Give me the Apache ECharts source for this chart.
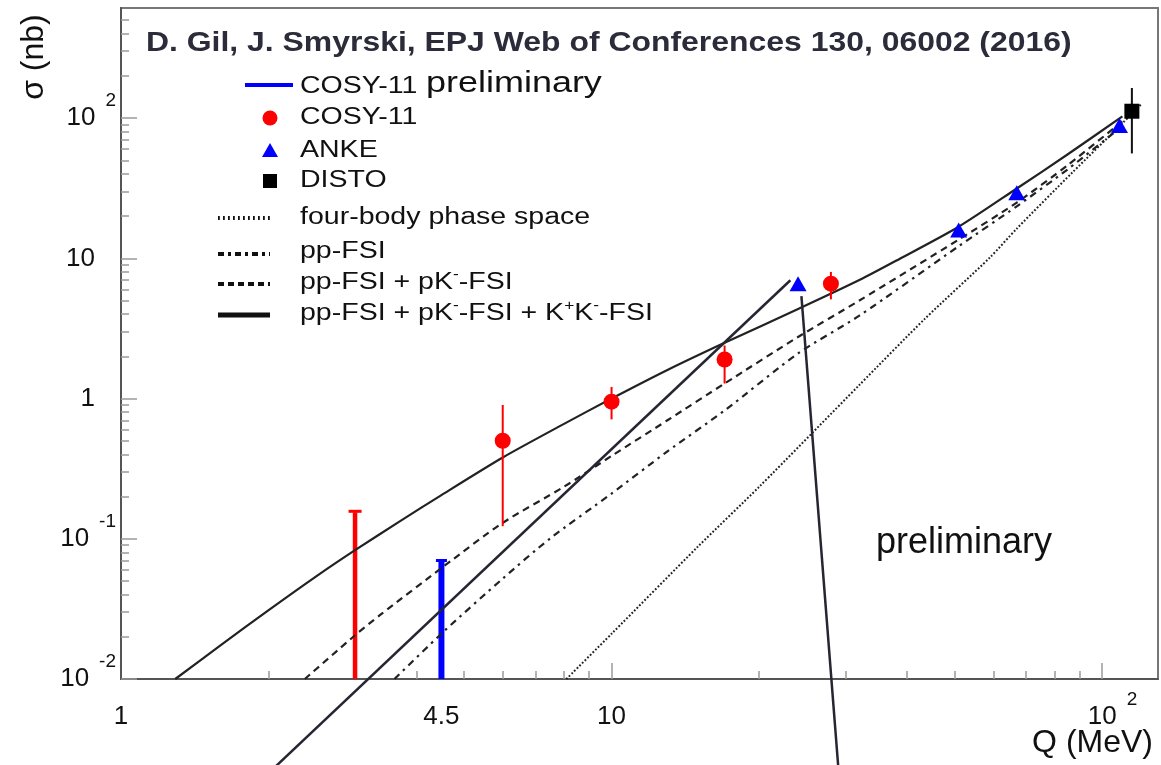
<!DOCTYPE html>
<html>
<head>
<meta charset="utf-8">
<title>pp → ppK+K− total cross section</title>
<script src="https://cdn.jsdelivr.net/npm/echarts@6/dist/echarts.min.js"></script>
<style>
  html, body { margin: 0; padding: 0; background: #ffffff; }
  #chart { width: 1161px; height: 765px; }
</style>
</head>
<body>
<div id="chart"></div>
<script>
// ---- measured cross sections: Q (MeV) and sigma (nb) ----
const cosyQ = [6.0, 10.0, 17.0, 28.0];
const cosySigma = [0.50, 0.95, 1.90, 6.6];
const cosyLow = [0.123, 0.71, 1.28, 5.1];
const cosyHigh = [0.90, 1.21, 2.39, 8.0];

const ankeQ = [24.0, 51.0, 67.0, 108.5];
const ankeSigma = [6.6, 15.9, 29.4, 88.5];

const distoQ = [115];
const distoSigma = [112];
const distoLow = [56];
const distoHigh = [164];

// upper limits (bar drawn from the bottom of the axis up to the limit)
const cosyLimitQ = [3.0];
const cosyLimitSigma = [0.157];
const prelimLimitQ = [4.5];
const prelimLimitSigma = [0.070];

// ---- model curves ----
const phaseQ = [8.09, 10, 15, 20, 32, 43.5, 59, 67, 87, 110, 120];
const phaseSigma = [0.010, 0.021, 0.088, 0.235, 1.25, 3.7, 10.1, 16.3, 41, 92, 125];

const ppQ = [3.61, 4.56, 6.0, 7.48, 10, 13, 17.1, 24, 32, 51, 67, 85, 110];
const ppSigma = [0.010, 0.022, 0.052, 0.10, 0.21, 0.42, 0.835, 2.1, 3.9, 12.2, 23.5, 43, 88];

const ppPkQ = [2.37, 3.0, 3.37, 4.56, 6.0, 8.0, 10, 13, 17, 24, 32, 51, 67, 85, 110];
const ppPkSigma = [0.010, 0.0205, 0.0285, 0.064, 0.13, 0.235, 0.39, 0.70, 1.28, 2.75, 5.0, 13.6, 25, 46, 95];

const fullQ = [1.29, 1.6, 2.0, 2.5, 3.0, 3.7, 4.5, 6.0, 8.0, 10, 13, 17, 24, 32, 38, 51, 67, 85, 110];
const fullSigma = [0.010, 0.0175, 0.031, 0.054, 0.083, 0.133, 0.205, 0.38, 0.66, 1.0, 1.6, 2.5, 4.35, 7.0, 9.6, 16.8, 31.5, 55, 103];

// two pointer lines running off the bottom of the frame: [Q1, sigma1, Q2, sigma2]
const pointerLines = [
  [1.99, 0.0021, 23.15, 6.98],
  [24.38, 5.37, 29.06, 0.0021]
];

// ---- axes ----
const xRange = [1, 130];
const yRange = [0.01, 610];
const xMajorTicks = [10, 100];
const xMinorTicks = [2, 3, 4, 5, 6, 7, 8, 9, 20, 30, 40, 50, 60, 70, 80, 90];
const xTickLabels = [1, 4.5, 10, 100];
const yMajorTicks = [0.01, 0.1, 1, 10, 100];
const yMinorTicks = [0.02, 0.03, 0.04, 0.05, 0.06, 0.07, 0.08, 0.09,
                     0.2, 0.3, 0.4, 0.5, 0.6, 0.7, 0.8, 0.9,
                     2, 3, 4, 5, 6, 7, 8, 9,
                     20, 30, 40, 50, 60, 70, 80, 90,
                     200, 300, 400, 500];
const yTickLabels = [0.01, 0.1, 1, 10, 100];

const FONT = '"Liberation Sans", Arial, Helvetica, sans-serif';
const INK = '#111111';
const CURVE = '#222222';

const pairs = (xs, ys) => xs.map((x, i) => [x, ys[i]]);

// "10" with a raised exponent, or a plain number
function decadeParts(v) {
  const l = Math.log10(v);
  const e = Math.round(l);
  if (Math.abs(l - e) > 1e-6) return { base: String(v), exp: null };
  if (e === 0) return { base: '1', exp: null };
  if (e === 1) return { base: '10', exp: null };
  return { base: '10', exp: String(e) };
}

const labelRich = {
  b:  { fontSize: 26, fontFamily: FONT, color: INK, lineHeight: 54 },
  bp: { fontSize: 26, fontFamily: FONT, color: INK, lineHeight: 54, padding: [0, 21, 0, 0] },
  bx: { fontSize: 26, fontFamily: FONT, color: INK, lineHeight: 54, padding: [0, 0, 0, 21] },
  s:  { fontSize: 19, fontFamily: FONT, color: INK, padding: [0, 0, 34, 10] }
};

function yLabel(v) {
  const p = decadeParts(v);
  return p.exp ? '{b|' + p.base + '}{s|' + p.exp + '}' : '{bp|' + p.base + '}';
}
function xLabel(v) {
  const p = decadeParts(v);
  return p.exp ? '{bx|' + p.base + '}{s|' + p.exp + '}' : '{b|' + p.base + '}';
}

const axisLineStyle = { color: '#555555', width: 2 };
const tickStyle = { color: '#9a9a9a', width: 1.5 };

function logAxis(range, extra) {
  return Object.assign({
    type: 'log',
    logBase: 10,
    min: range[0],
    max: range[1],
    splitLine: { show: false },
    minorTick: { show: false },
    minorSplitLine: { show: false }
  }, extra);
}

// ---- error bars ----
function errorBars(color, width) {
  return function (params, api) {
    const q = api.value(0);
    const a = api.coord([q, api.value(1)]);
    const b = api.coord([q, api.value(2)]);
    return {
      type: 'line',
      shape: { x1: a[0], y1: a[1], x2: b[0], y2: b[1] },
      style: { stroke: color, lineWidth: width }
    };
  };
}

function limitBars(color, width, capHalf) {
  return function (params, api) {
    const q = api.value(0);
    const base = api.coord([q, yRange[0]]);
    const tip = api.coord([q, api.value(1)]);
    return {
      type: 'group',
      children: [
        { type: 'line', shape: { x1: base[0], y1: base[1], x2: tip[0], y2: tip[1] + 1 },
          style: { stroke: color, lineWidth: width } },
        { type: 'line', shape: { x1: tip[0] - capHalf, y1: tip[1], x2: tip[0] + capHalf, y2: tip[1] },
          style: { stroke: color, lineWidth: 3 } }
      ]
    };
  };
}

function pointerItem(params, api) {
  const a = api.coord([api.value(0), api.value(1)]);
  const b = api.coord([api.value(2), api.value(3)]);
  return {
    type: 'line',
    shape: { x1: a[0], y1: a[1], x2: b[0], y2: b[1] },
    style: { stroke: '#262633', lineWidth: 2.5 }
  };
}

function curve(name, xs, ys, dash, width) {
  return {
    name: name,
    type: 'line',
    data: pairs(xs, ys),
    showSymbol: false,
    symbol: 'none',
    smooth: 0.25,
    z: 3,
    lineStyle: { color: CURVE, width: width, type: dash, cap: 'butt', join: 'round' }
  };
}

// ---- legend drawn in the frame ----
const LEG_TEXT_X = 300;
const LEG_SCALE = 1.24;
const legRich = {
  t: { fontSize: 23, fontFamily: FONT, fill: INK },
  u: { fontSize: 14, fontFamily: FONT, fill: INK, padding: [0, 0, 16, 0] },
  big: { fontSize: 29, fontFamily: FONT, fill: INK, verticalAlign: 'bottom' },
  sm: { fontSize: 23, fontFamily: FONT, fill: INK, verticalAlign: 'bottom', padding: [0, 7, 0, 0] }
};
function legText(y, text) {
  return {
    type: 'text', x: LEG_TEXT_X, y: y, scaleX: LEG_SCALE, z: 100, silent: true,
    style: { x: 0, y: 0, text: text, rich: legRich, fontSize: 23, fontFamily: FONT,
             fill: INK, align: 'left', verticalAlign: 'middle' }
  };
}
function legLine(y, dash, width, color) {
  return {
    type: 'line', z: 100, silent: true,
    shape: { x1: 218, y1: y, x2: 270, y2: y },
    style: { stroke: color || INK, lineWidth: width, lineDash: dash }
  };
}

const graphics = [
  // reference line
  {
    type: 'text', x: 146, y: 43, scaleX: 1.14, z: 100, silent: true,
    style: { x: 0, y: 0, text: 'D. Gil, J. Smyrski, EPJ Web of Conferences 130, 06002 (2016)',
             fontSize: 28, fontWeight: 'bold', fontFamily: FONT, fill: '#2b2b3a',
             align: 'left', verticalAlign: 'middle' }
  },
  // legend
  { type: 'line', z: 100, silent: true, shape: { x1: 245, y1: 85, x2: 293, y2: 85 },
    style: { stroke: '#0000ff', lineWidth: 4 } },
  legText(84, '{sm|COSY-11}{big|preliminary}'),
  { type: 'circle', z: 100, silent: true, shape: { cx: 270, cy: 118, r: 7.5 }, style: { fill: '#ff0000' } },
  legText(118, 'COSY-11'),
  { type: 'polygon', z: 100, silent: true, shape: { points: [[262, 157], [278, 157], [270, 143]] },
    style: { fill: '#0000ff' } },
  legText(151, 'ANKE'),
  { type: 'rect', z: 100, silent: true, shape: { x: 263, y: 174, width: 14, height: 14 }, style: { fill: '#000000' } },
  legText(181, 'DISTO'),
  legLine(218, [1.8, 3.2], 4),
  legText(218, 'four-body phase space'),
  legLine(254, [6, 4, 3, 4], 4),
  legText(252, 'pp-FSI'),
  legLine(284, [6, 4], 4),
  legText(283, '{t|pp-FSI + pK}{u|-}{t|-FSI}'),
  legLine(315, null, 5),
  legText(314, '{t|pp-FSI + pK}{u|-}{t|-FSI + K}{u|+}{t|K}{u|-}{t|-FSI}'),
  // in-frame note
  {
    type: 'text', x: 876, y: 543, z: 100, silent: true,
    style: { x: 0, y: 0, text: 'preliminary', fontSize: 36, fontFamily: FONT, fill: INK,
             align: 'left', verticalAlign: 'middle' }
  },
  // axis titles
  {
    type: 'text', x: 34, y: 57, rotation: Math.PI / 2, z: 100, silent: true,
    style: { x: 0, y: 0, text: 'σ (nb)', fontSize: 32, fontFamily: FONT, fill: INK,
             align: 'center', verticalAlign: 'middle' }
  },
  {
    type: 'text', x: 1153, y: 743, z: 100, silent: true,
    style: { x: 0, y: 0, text: 'Q (MeV)', fontSize: 32, fontFamily: FONT, fill: INK,
             align: 'right', verticalAlign: 'middle' }
  }
];

const option = {
  backgroundColor: '#ffffff',
  animation: false,
  legend: { show: false },
  tooltip: { show: false },
  grid: {
    left: 121, right: 3, top: 8, bottom: 86,
    show: true, borderColor: '#777777', borderWidth: 2,
    containLabel: false, outerBoundsMode: 'none'
  },
  xAxis: [
    logAxis(xRange, {
      position: 'bottom',
      axisLine: { show: true, onZero: false, lineStyle: axisLineStyle },
      axisTick: { show: true, inside: true, length: 16, lineStyle: tickStyle, customValues: xMajorTicks },
      axisLabel: { show: true, margin: 11, customValues: xTickLabels, formatter: xLabel, rich: labelRich,
                   hideOverlap: false }
    }),
    logAxis(xRange, {
      position: 'bottom',
      axisLine: { show: false, onZero: false },
      axisTick: { show: true, inside: true, length: 8, lineStyle: tickStyle, customValues: xMinorTicks },
      axisLabel: { show: false }
    })
  ],
  yAxis: [
    logAxis(yRange, {
      position: 'left',
      axisLine: { show: true, onZero: false, lineStyle: axisLineStyle },
      axisTick: { show: true, inside: true, length: 16, lineStyle: tickStyle, customValues: yMajorTicks },
      axisLabel: { show: true, margin: 5, customValues: yTickLabels, formatter: yLabel, rich: labelRich,
                   hideOverlap: false }
    }),
    logAxis(yRange, {
      position: 'left',
      axisLine: { show: false, onZero: false },
      axisTick: { show: true, inside: true, length: 8, lineStyle: tickStyle, customValues: yMinorTicks },
      axisLabel: { show: false }
    })
  ],
  graphic: graphics,
  series: [
    {
      name: 'COSY-11 limit', type: 'custom', z: 2,
      renderItem: limitBars('#ff0000', 4.5, 6.5),
      encode: { x: 0, y: 1 },
      data: pairs(cosyLimitQ, cosyLimitSigma)
    },
    {
      name: 'COSY-11 preliminary', type: 'custom', z: 2,
      renderItem: limitBars('#0000ff', 6, 5.5),
      encode: { x: 0, y: 1 },
      data: pairs(prelimLimitQ, prelimLimitSigma)
    },
    curve('four-body phase space', phaseQ, phaseSigma, [1.8, 1.9], 2),
    curve('pp-FSI', ppQ, ppSigma, [7, 5, 2.5, 5], 2.2),
    curve('pp-FSI + pK-FSI', ppPkQ, ppPkSigma, [7, 5], 2.2),
    curve('pp-FSI + pK-FSI + KK-FSI', fullQ, fullSigma, 'solid', 2.2),
    {
      name: 'COSY-11 errors', type: 'custom', z: 4,
      renderItem: errorBars('#ff0000', 2),
      encode: { x: 0, y: [1, 2] },
      data: cosyQ.map((q, i) => [q, cosyLow[i], cosyHigh[i]])
    },
    {
      name: 'DISTO errors', type: 'custom', z: 4,
      renderItem: errorBars('#111111', 2),
      encode: { x: 0, y: [1, 2] },
      data: distoQ.map((q, i) => [q, distoLow[i], distoHigh[i]])
    },
    {
      name: 'COSY-11', type: 'scatter', z: 5,
      symbol: 'circle', symbolSize: 16,
      itemStyle: { color: '#ff0000', opacity: 1 },
      data: pairs(cosyQ, cosySigma)
    },
    {
      name: 'ANKE', type: 'scatter', z: 5,
      symbol: 'triangle', symbolSize: [17, 15],
      itemStyle: { color: '#0000ff', opacity: 1 },
      data: pairs(ankeQ, ankeSigma)
    },
    {
      name: 'DISTO', type: 'scatter', z: 5,
      symbol: 'rect', symbolSize: 15,
      itemStyle: { color: '#000000', opacity: 1 },
      data: pairs(distoQ, distoSigma)
    },
    {
      name: 'pointers', type: 'custom', z: 6, clip: false,
      renderItem: pointerItem,
      encode: { x: [0, 2], y: [1, 3] },
      data: pointerLines
    }
  ]
};

const chart = echarts.init(document.getElementById('chart'), null, { renderer: 'canvas' });
chart.setOption(option);
</script>
</body>
</html>
